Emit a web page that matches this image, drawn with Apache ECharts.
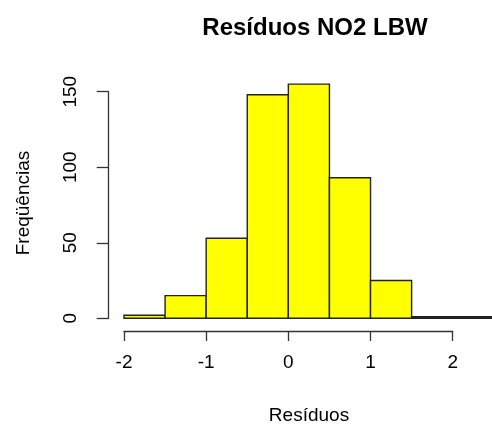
<!DOCTYPE html>
<html>
<head>
<meta charset="utf-8">
<script src="https://cdn.jsdelivr.net/npm/echarts@6/dist/echarts.min.js"></script>
<style>html,body{margin:0;padding:0;background:#fff;}#c{width:492px;height:434px;}</style>
</head>
<body>
<div id="c"></div>
<script>
var binEdges = [-2, -1.5, -1, -0.5, 0, 0.5, 1, 1.5, 2, 2.5];
var counts = [2, 15, 53, 148, 155, 93, 25, 1, 1];
var xTicks = [-2, -1, 0, 1, 2];
var yTicks = [0, 50, 100, 150];
var titleText = 'Resíduos NO2 LBW';
var xTitle = 'Resíduos';
var yTitle = 'Freqüências';

var bins = counts.map(function (c, i) { return [binEdges[i], binEdges[i + 1], c]; });
var FONT = '"Liberation Sans", Arial, sans-serif';

var chart = echarts.init(document.getElementById('c'), null, {renderer: 'canvas'});
chart.setOption({
  animation: false,
  backgroundColor: '#ffffff',
  title: {
    text: titleText,
    left: 310,
    textAlign: 'center',
    top: 11,
    textStyle: {fontFamily: FONT, fontSize: 24, fontWeight: 'bold', color: '#000'}
  },
  grid: {left: 124, width: 328.7, top: 91.7, height: 226.6},
  xAxis: {
    type: 'value', min: xTicks[0], max: xTicks[xTicks.length - 1], interval: 1,
    position: 'bottom', offset: 12.7,
    axisLine: {show: true, onZero: false, lineStyle: {color: '#333', width: 1.3}},
    axisTick: {show: true, inside: false, length: 10, lineStyle: {color: '#333', width: 1.3}},
    axisLabel: {margin: 22, fontFamily: FONT, fontSize: 19, color: '#000'},
    splitLine: {show: false}
  },
  yAxis: {
    type: 'value', min: yTicks[0], max: yTicks[yTicks.length - 1], interval: 50,
    position: 'left', offset: 15.3,
    axisLine: {show: true, onZero: false, lineStyle: {color: '#333', width: 1.3}},
    axisTick: {show: true, inside: false, length: 12, lineStyle: {color: '#333', width: 1.3}},
    axisLabel: {rotate: 90, margin: 28, fontFamily: FONT, fontSize: 19, color: '#000'},
    splitLine: {show: false}
  },
  series: [{
    type: 'custom',
    clip: false,
    data: bins,
    renderItem: function (params, api) {
      var p0 = api.coord([api.value(0), 0]);
      var p1 = api.coord([api.value(1), api.value(2)]);
      return {
        type: 'rect',
        shape: {x: p0[0], y: p1[1], width: p1[0] - p0[0], height: p0[1] - p1[1]},
        style: {fill: '#ffff00', stroke: '#222', lineWidth: 1.4}
      };
    }
  }],
  graphic: [
    {type: 'text', x: 309, y: 416, style: {text: xTitle, font: '19px ' + FONT, fill: '#000', textAlign: 'center', textVerticalAlign: 'middle'}},
    {type: 'text', x: 24, y: 203, rotation: Math.PI / 2, style: {text: yTitle, font: '19px ' + FONT, fill: '#000', textAlign: 'center', textVerticalAlign: 'middle'}}
  ]
});
</script>
</body>
</html>
